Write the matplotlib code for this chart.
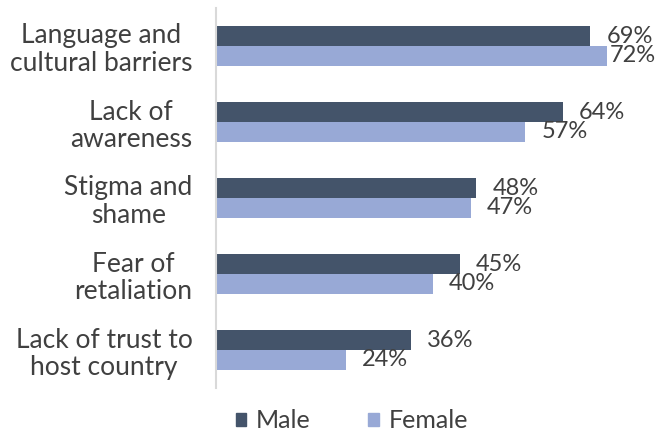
import matplotlib
matplotlib.use("Agg")
import matplotlib.pyplot as plt
import numpy as np
from matplotlib.patches import Patch

categories = ["Language and\ncultural barriers", "Lack of\nawareness", "Stigma and\nshame",
              "Fear of\nretaliation", "Lack of trust to\nhost country"]
male = [69, 64, 48, 45, 36]
female = [72, 57, 47, 40, 24]

male_color = "#44546A"
female_color = "#98A9D6"
text_color = "#404040"

plt.rcParams["font.family"] = ["Lato", "DejaVu Sans"]

fig = plt.figure(figsize=(6.59, 4.32), dpi=100)
ax = fig.add_axes([216 / 659, 44 / 432, 434 / 659, 380 / 432])

y = np.arange(len(categories))
h = 0.26
ax.barh(y - h / 2, male, height=h, color=male_color, label="Male")
ax.barh(y + h / 2, female, height=h, color=female_color, label="Female")

labels = []
for yi, m, f in zip(y, male, female):
    for val, yy in ((m, yi - h / 2), (f, yi + h / 2)):
        labels.append(ax.annotate(f"{val}%", xy=(val, yy), xytext=(11.5, 0),
                                  textcoords="offset points", va="center", ha="left",
                                  fontsize=17, color=text_color))

ax.set_xlim(0, 80)
ax.set_ylim(len(categories) - 0.5, -0.5)
ax.set_yticks(y)
ax.set_yticklabels(categories, fontsize=19, color=text_color, linespacing=1.12,
                   multialignment="center")
ax.tick_params(axis="y", length=0, pad=17)
ax.set_xticks([])
for side in ["top", "right", "bottom"]:
    ax.spines[side].set_visible(False)
ax.spines["left"].set_color("#D9D9D9")
ax.spines["left"].set_linewidth(1.5)

handles = [Patch(color=male_color, label="Male"), Patch(color=female_color, label="Female")]
fig.legend(handles=handles, loc="center", bbox_to_anchor=(352 / 659, 1 - 421 / 432), ncol=2,
           frameon=False, fontsize=18, handlelength=0.42, handleheight=0.42, handletextpad=0.4,
           columnspacing=2.3, labelcolor=text_color)

# keep value labels inside the figure: pull any overflowing label back to the edge
fig.canvas.draw()
renderer = fig.canvas.get_renderer()
limit = fig.bbox.width - 3
for t in labels:
    over = t.get_window_extent(renderer).x1 - limit
    if over > 0:
        dx, dy = t.xyann
        t.xyann = (dx - over * 72 / fig.dpi, dy)

fig.savefig("out.png", dpi=100)
